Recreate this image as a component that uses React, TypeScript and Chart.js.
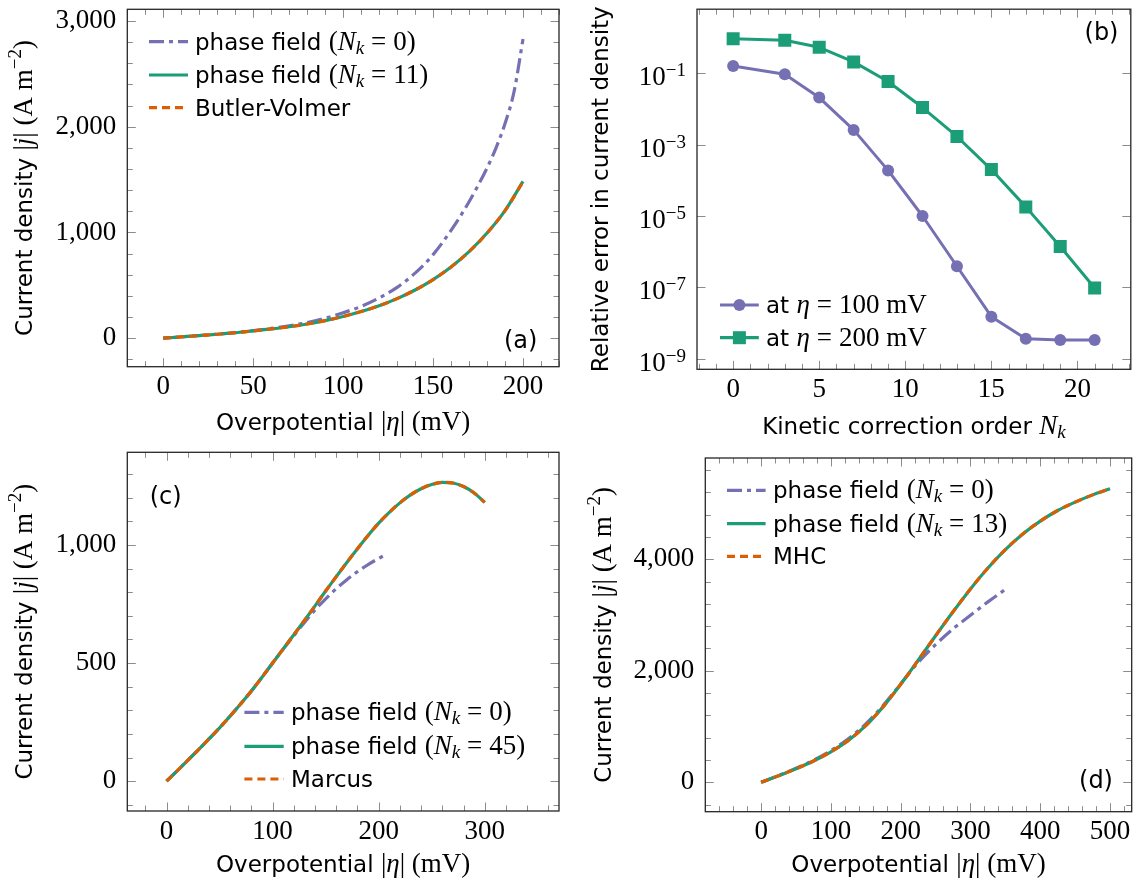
import React, { useEffect, useRef } from 'react';
import { Chart, registerables } from 'chart.js';
Chart.register(...registerables);

// ---------------- data ----------------
// (a) Butler-Volmer
const etaA = [0, 10, 20, 30, 40, 50, 60, 70, 80, 90, 100, 110, 120, 130, 140, 150, 160, 170, 180, 190, 200];
const bvA = [0, 12, 24, 37, 51, 68, 87, 108, 134, 166, 205, 252, 307, 374, 455, 554, 673, 818, 994, 1206, 1480];
const pfA11 = [0, 12, 24, 37, 51, 68, 87, 108, 134, 166, 205, 252, 307, 374, 455, 554, 673, 818, 994, 1206, 1482];
const etaA0 = [0, 10, 20, 30, 40, 50, 60, 70, 80, 90, 100, 110, 120, 130, 140, 150, 160, 170, 180, 185, 190, 195, 200];
const pfA0 = [0, 12, 25, 38, 53, 71, 92, 117, 148, 188, 240, 300, 380, 480, 615, 790, 1020, 1290, 1610, 1800, 2030, 2330, 2830];
const xTicksA = [0, 50, 100, 150, 200];
const yTicksA = [0, 1000, 2000, 3000];

// (b) relative error
const orderB = [0, 3, 5, 7, 9, 11, 13, 15, 17, 19, 21];
const err100B = [0.16, 0.094, 0.021, 0.0026, 1.9e-4, 1.0e-5, 3.9e-7, 1.5e-8, 3.6e-9, 3.35e-9, 3.35e-9];
const err200B = [0.93, 0.85, 0.54, 0.21, 0.059, 0.011, 0.0017, 2.0e-4, 1.8e-5, 1.4e-6, 9.6e-8];
const xTicksB = [0, 5, 10, 15, 20];
const yTicksB = [1e-9, 1e-7, 1e-5, 1e-3, 1e-1];
const yTickExpB = ['\u22129', '\u22127', '\u22125', '\u22123', '\u22121'];

// (c) Marcus
const etaC = [0, 10, 20, 30, 40, 50, 60, 70, 80, 90, 100, 110, 120, 130, 140, 150, 160, 170, 180, 190, 200, 210, 220, 230, 240, 250, 260, 270, 280, 290, 300];
const marcusC = [0, 44, 88, 133, 179, 226, 276, 328, 382, 440, 500, 560, 620, 680, 742, 805, 866, 926, 984, 1040, 1092, 1138, 1178, 1212, 1238, 1256, 1265, 1262, 1247, 1220, 1180];
const pfC45 = [0, 44, 88, 133, 179, 226, 276, 328, 382, 440, 500, 560, 620, 680, 742, 805, 866, 926, 984, 1040, 1092, 1138, 1178, 1212, 1238, 1256, 1265, 1262, 1247, 1220, 1180];
const etaC0 = [0, 10, 20, 30, 40, 50, 60, 70, 80, 90, 100, 110, 120, 130, 140, 150, 160, 170, 180, 190, 200, 205];
const pfC0 = [0, 44, 88, 133, 179, 226, 276, 328, 382, 440, 500, 559, 616, 672, 725, 772, 815, 853, 887, 917, 943, 955];
const xTicksC = [0, 100, 200, 300];
const yTicksC = [0, 500, 1000];

// (d) MHC
const etaD = [0, 25, 50, 75, 100, 125, 150, 175, 200, 225, 250, 275, 300, 325, 350, 375, 400, 425, 450, 475, 500];
const mhcD = [0, 118, 243, 383, 548, 753, 1018, 1358, 1758, 2188, 2628, 3058, 3468, 3843, 4173, 4453, 4683, 4873, 5023, 5153, 5263];
const pfD13 = [0, 118, 243, 383, 548, 753, 1018, 1358, 1758, 2188, 2628, 3058, 3468, 3843, 4173, 4453, 4683, 4873, 5023, 5153, 5263];
const etaD0 = [0, 25, 50, 75, 100, 125, 150, 175, 200, 225, 250, 275, 300, 325, 350];
const pfD0 = [0, 122, 252, 398, 570, 782, 1048, 1380, 1765, 2150, 2470, 2750, 2995, 3235, 3460];
const xTicksD = [0, 100, 200, 300, 400, 500];
const yTicksD = [0, 2000, 4000];

// ---------------- styles ----------------
const PURPLE = '#7570b3';
const GREEN = '#1b9e77';
const ORANGE = '#d95f02';
const DASHDOT = [15, 5, 4, 5];
const DASHED = [8, 5];

const F_SANS = '23px "DejaVu Sans"';
const F_RM = '27px "Liberation Serif"';
const F_IT = 'italic 27px "Liberation Serif"';
const F_SUB = 'italic 19px "Liberation Serif"';
const F_SUP = '19px "Liberation Serif"';

type Seg = { t: string; f: string; dy?: number; gap?: number };

const pfLabel = (n: string): Seg[] => [
  { t: 'phase field ', f: F_SANS },
  { t: '(', f: F_RM },
  { t: 'N', f: F_IT },
  { t: 'k', f: F_SUB, dy: 4 },
  { t: '=', f: F_RM, gap: 7 },
  { t: n + ')', f: F_RM, gap: 7 },
];
const sans = (t: string): Seg[] => [{ t, f: F_SANS }];
const atEta = (v: string): Seg[] => [
  { t: 'at ', f: F_SANS },
  { t: '\u03b7', f: F_IT },
  { t: '=', f: F_RM, gap: 7 },
  { t: v + ' mV', f: F_RM, gap: 7 },
];
const yTitleJ: Seg[] = [
  { t: 'Current density ', f: F_SANS },
  { t: '|', f: F_RM },
  { t: 'j', f: F_IT },
  { t: '| (A m', f: F_RM },
  { t: '\u22122', f: F_SUP, dy: -11 },
  { t: ')', f: F_RM },
];
const xTitleEta: Seg[] = [
  { t: 'Overpotential ', f: F_SANS },
  { t: '|', f: F_RM },
  { t: '\u03b7', f: F_IT },
  { t: '| (mV)', f: F_RM },
];
const xTitleNk: Seg[] = [
  { t: 'Kinetic correction order ', f: F_SANS },
  { t: 'N', f: F_IT },
  { t: 'k', f: F_SUB, dy: 4 },
];

function richWidth(ctx: CanvasRenderingContext2D, segs: Seg[]) {
  let w = 0;
  for (const s of segs) {
    w += s.gap || 0;
    if (s.t) {
      ctx.font = s.f;
      w += ctx.measureText(s.t).width;
    }
  }
  return w;
}
function drawRich(ctx: CanvasRenderingContext2D, segs: Seg[], x: number, y: number, align: string) {
  const w = richWidth(ctx, segs);
  let cx = align === 'center' ? x - w / 2 : align === 'right' ? x - w : x;
  ctx.textAlign = 'left';
  ctx.textBaseline = 'alphabetic';
  ctx.fillStyle = '#000';
  for (const s of segs) {
    cx += s.gap || 0;
    if (s.t) {
      ctx.font = s.f;
      ctx.fillText(s.t, cx, y + (s.dy || 0));
      cx += ctx.measureText(s.t).width;
    }
  }
}

type LineSpec = { label: Seg[]; xs: number[]; ys: number[]; color: string; dash: number[]; marker?: string; order: number };
type Panel = {
  pos: [number, number];
  box: [number, number, number, number]; // L T R B (canvas-local)
  x: { min: number; max: number; ticks: number[]; minor: number };
  y: { min: number; max: number; ticks: number[]; minor: number; log?: boolean; exps?: string[] };
  lines: LineSpec[];
  legend: { x1: number; x2: number; tx: number; rows: number[] };
  xTitle: { segs: Seg[]; y: number };
  yTitle: { segs: Seg[]; x: number };
  tag: { t: string; x: number; y: number };
};

const W = 570;
const H = 443;

const panels: Panel[] = [
  {
    pos: [0, 0],
    box: [127.3, 9.3, 559, 366.7],
    x: { min: -20, max: 220, ticks: xTicksA, minor: 10 },
    y: { min: -270, max: 3110, ticks: yTicksA, minor: 200 },
    lines: [
      { label: pfLabel('0'), xs: etaA0, ys: pfA0, color: PURPLE, dash: DASHDOT, order: 3 },
      { label: pfLabel('11'), xs: etaA, ys: pfA11, color: GREEN, dash: [], order: 2 },
      { label: sans('Butler-Volmer'), xs: etaA, ys: bvA, color: ORANGE, dash: DASHED, order: 1 },
    ],
    legend: { x1: 149, x2: 188, tx: 195, rows: [41.7, 75, 107.7] },
    xTitle: { segs: xTitleEta, y: 430 },
    yTitle: { segs: yTitleJ, x: 32 },
    tag: { t: '(a)', x: 520.7, y: 341.7 },
  },
  {
    pos: [570, 0],
    box: [127, 4, 569, 369.3],
    x: { min: -2.1, max: 23.1, ticks: xTicksB, minor: 1 },
    y: { min: Math.pow(10, -9.3), max: Math.pow(10, 0.8), ticks: yTicksB, minor: 0, log: true, exps: yTickExpB },
    lines: [
      { label: atEta('100'), xs: orderB, ys: err100B, color: PURPLE, dash: [], marker: 'circle', order: 2 },
      { label: atEta('200'), xs: orderB, ys: err200B, color: GREEN, dash: [], marker: 'rect', order: 1 },
    ],
    legend: { x1: 150, x2: 188.8, tx: 196, rows: [305, 337.7] },
    xTitle: { segs: xTitleNk, y: 434 },
    yTitle: { segs: sans('Relative error in current density'), x: 38 },
    tag: { t: '(b)', x: 531.5, y: 33.3 },
  },
  {
    pos: [0, 443],
    box: [127.3, 9.3, 559, 368],
    x: { min: -37, max: 370, ticks: xTicksC, minor: 20 },
    y: { min: -126, max: 1392, ticks: yTicksC, minor: 100 },
    lines: [
      { label: pfLabel('0'), xs: etaC0, ys: pfC0, color: PURPLE, dash: DASHDOT, order: 3 },
      { label: pfLabel('45'), xs: etaC, ys: pfC45, color: GREEN, dash: [], order: 2 },
      { label: sans('Marcus'), xs: etaC, ys: marcusC, color: ORANGE, dash: DASHED, order: 1 },
    ],
    legend: { x1: 244.4, x2: 283.7, tx: 291, rows: [269.3, 303.3, 336] },
    xTitle: { segs: xTitleEta, y: 429 },
    yTitle: { segs: yTitleJ, x: 32 },
    tag: { t: '(c)', x: 165.7, y: 55 },
  },
  {
    pos: [570, 443],
    box: [135.3, 15, 561.7, 368.7],
    x: { min: -80, max: 531, ticks: xTicksD, minor: 20 },
    y: { min: -526, max: 5814, ticks: yTicksD, minor: 400 },
    lines: [
      { label: pfLabel('0'), xs: etaD0, ys: pfD0, color: PURPLE, dash: DASHDOT, order: 3 },
      { label: pfLabel('13'), xs: etaD, ys: pfD13, color: GREEN, dash: [], order: 2 },
      { label: sans('MHC'), xs: etaD, ys: mhcD, color: ORANGE, dash: DASHED, order: 1 },
    ],
    legend: { x1: 157, x2: 195.6, tx: 203, rows: [47.3, 80.7, 113.3] },
    xTitle: { segs: xTitleEta, y: 429 },
    yTitle: { segs: yTitleJ, x: 41 },
    tag: { t: '(d)', x: 526, y: 338.7 },
  },
];

function drawMarker(ctx: CanvasRenderingContext2D, kind: string, x: number, y: number, color: string) {
  ctx.fillStyle = color;
  ctx.beginPath();
  if (kind === 'rect') ctx.rect(x - 6.5, y - 6.5, 13, 13);
  else ctx.arc(x, y, 6, 0, Math.PI * 2);
  ctx.fill();
}

function decorPlugin(p: Panel) {
  return {
    id: 'decor',
    afterDraw(chart: any) {
      const ctx: CanvasRenderingContext2D = chart.ctx;
      const { left, right, top, bottom } = chart.chartArea;
      const xs = chart.scales.x;
      const ys = chart.scales.y;
      ctx.save();
      // ticks (inward, all four sides)
      ctx.strokeStyle = '#8c8c8c';
      ctx.lineWidth = 1;
      ctx.setLineDash([]);
      const seg = (x1: number, y1: number, x2: number, y2: number) => {
        ctx.beginPath();
        ctx.moveTo(x1, y1);
        ctx.lineTo(x2, y2);
        ctx.stroke();
      };
      const xTick = (v: number, len: number) => {
        const px = Math.round(xs.getPixelForValue(v)) + 0.5;
        seg(px, bottom, px, bottom - len);
        seg(px, top, px, top + len);
      };
      const yTick = (v: number, len: number) => {
        const py = Math.round(ys.getPixelForValue(v)) + 0.5;
        seg(left, py, left + len, py);
        seg(right, py, right - len, py);
      };
      for (let k = Math.ceil(p.x.min / p.x.minor); k * p.x.minor <= p.x.max; k++) {
        const v = k * p.x.minor;
        xTick(v, p.x.ticks.includes(v) ? 8.5 : 5.5);
      }
      if (p.y.minor > 0) {
        for (let k = Math.ceil(p.y.min / p.y.minor); k * p.y.minor <= p.y.max; k++) {
          const v = k * p.y.minor;
          yTick(v, p.y.ticks.includes(v) ? 8.5 : 5.5);
        }
      } else {
        p.y.ticks.forEach((v) => yTick(v, 8.5));
      }
      // frame
      ctx.strokeStyle = '#262626';
      ctx.lineWidth = 1.3;
      ctx.strokeRect(left, top, right - left, bottom - top);
      // log tick labels
      if (p.y.log && p.y.exps) {
        p.y.ticks.forEach((v, i) => {
          const py = ys.getPixelForValue(v);
          const segs: Seg[] = [
            { t: '10', f: F_RM },
            { t: p.y.exps![i], f: '19px "Liberation Serif"', dy: -9 },
          ];
          drawRich(ctx, segs, left - 11, py + 12, 'right');
        });
      }
      // legend
      const lg = p.legend;
      p.lines.forEach((l, i) => {
        const y = lg.rows[i];
        ctx.strokeStyle = l.color;
        ctx.lineWidth = 3.2;
        ctx.lineCap = 'butt';
        ctx.setLineDash(l.dash);
        seg(lg.x1, y, lg.x2, y);
        ctx.setLineDash([]);
        if (l.marker) drawMarker(ctx, l.marker, (lg.x1 + lg.x2) / 2, y, l.color);
        drawRich(ctx, l.label, lg.tx, y + 8, 'left');
      });
      // axis titles
      drawRich(ctx, p.xTitle.segs, (left + right) / 2, p.xTitle.y, 'center');
      ctx.save();
      ctx.translate(p.yTitle.x, (top + bottom) / 2);
      ctx.rotate(-Math.PI / 2);
      drawRich(ctx, p.yTitle.segs, 0, 0, 'center');
      ctx.restore();
      // panel tag
      ctx.font = '24px "DejaVu Sans"';
      ctx.fillStyle = '#000';
      ctx.textAlign = 'center';
      ctx.textBaseline = 'middle';
      ctx.fillText(p.tag.t, p.tag.x, p.tag.y);
      ctx.restore();
    },
  };
}

function buildConfig(p: Panel): any {
  const [L, T, R, B] = p.box;
  const zeroPad = (s: any) => {
    s.paddingLeft = 0;
    s.paddingRight = 0;
    s.paddingTop = 0;
    s.paddingBottom = 0;
  };
  const tickFont = { family: 'Liberation Serif', size: 27, lineHeight: 1 };
  return {
    type: 'line',
    data: {
      datasets: p.lines.map((l) => ({
        data: l.xs.map((x, i) => ({ x, y: l.ys[i] })),
        borderColor: l.color,
        backgroundColor: l.color,
        borderWidth: l.marker ? 3 : 3.2,
        borderDash: l.dash,
        borderCapStyle: 'butt',
        borderJoinStyle: 'round',
        pointRadius: l.marker ? (l.marker === 'rect' ? 9.2 : 6) : 0,
        pointStyle: l.marker === 'rect' ? 'rect' : 'circle',
        pointBackgroundColor: l.color,
        pointBorderColor: l.color,
        pointBorderWidth: 0,
        cubicInterpolationMode: l.marker ? 'default' : 'monotone',
        tension: 0,
        fill: false,
        order: l.order,
      })),
    },
    options: {
      animation: false,
      responsive: false,
      maintainAspectRatio: false,
      devicePixelRatio: 1,
      locale: 'en-US',
      events: [],
      layout: { padding: { left: 0, top: T, right: W - R, bottom: 0 } },
      plugins: { legend: { display: false }, tooltip: { enabled: false }, title: { display: false } },
      scales: {
        x: {
          type: 'linear',
          min: p.x.min,
          max: p.x.max,
          afterBuildTicks: (s: any) => {
            s.ticks = p.x.ticks.map((v) => ({ value: v }));
          },
          afterFit: (s: any) => {
            s.height = H - B;
            zeroPad(s);
          },
          grid: { display: false, drawTicks: false },
          border: { display: false },
          ticks: { font: tickFont, color: '#000', padding: 7, maxRotation: 0, minRotation: 0, autoSkip: false },
        },
        y: {
          type: p.y.log ? 'logarithmic' : 'linear',
          min: p.y.min,
          max: p.y.max,
          afterBuildTicks: (s: any) => {
            s.ticks = p.y.ticks.map((v) => ({ value: v }));
          },
          afterFit: (s: any) => {
            s.width = L;
            zeroPad(s);
          },
          grid: { display: false, drawTicks: false },
          border: { display: false },
          ticks: {
            display: !p.y.log,
            font: tickFont,
            color: '#000',
            padding: 11,
            autoSkip: false,
          },
        },
      },
    },
    plugins: [decorPlugin(p)],
  };
}

function PanelChart({ p }: { p: Panel }) {
  const ref = useRef<HTMLCanvasElement | null>(null);
  useEffect(() => {
    if (!ref.current) return;
    const chart = new Chart(ref.current, buildConfig(p));
    return () => chart.destroy();
  }, [p]);
  return (
    <canvas
      ref={ref}
      width={W}
      height={H}
      style={{ position: 'absolute', left: p.pos[0], top: p.pos[1], width: W, height: H }}
    />
  );
}

export default function App() {
  return (
    <div style={{ position: 'absolute', left: 0, top: 0, width: 1140, height: 886, background: '#fff', overflow: 'hidden' }}>
      {panels.map((p, i) => (
        <PanelChart key={i} p={p} />
      ))}
    </div>
  );
}
